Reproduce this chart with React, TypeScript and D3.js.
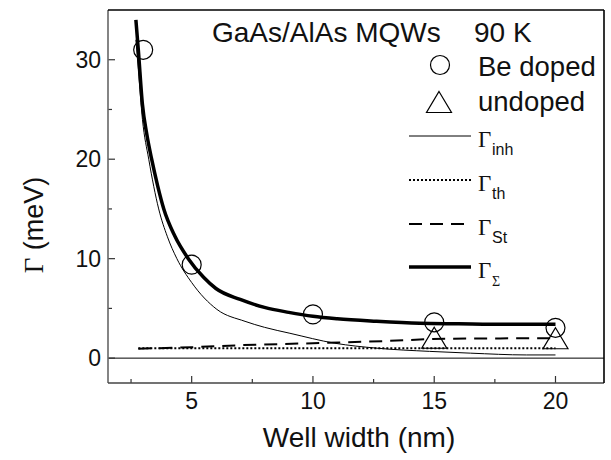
import React from "react";
import * as d3 from "d3";

// ---- data ----
const wellWidths = [3, 5, 10, 15, 20];
const beDoped = [31, 9.4, 4.4, 3.6, 3.05];
const undopedWidths = [15, 20];
const undoped = [2.05, 2.0];

const sumX = [2.7, 2.8, 2.97, 3.15, 3.35, 3.6, 3.85, 4.3, 4.86, 5.5, 6, 7, 8, 9, 10, 11, 12.6, 14.4, 16, 18, 20];
const sumY = [34, 31, 25.5, 22.5, 20, 17.3, 15, 12.3, 10, 8.1, 7.0, 5.9, 5.1, 4.6, 4.2, 3.95, 3.7, 3.5, 3.45, 3.4, 3.4];

const inhX = [2.7, 2.8, 2.97, 3.23, 3.64, 4.0, 4.39, 5.0, 6.04, 7.2, 8, 9.05, 10.9, 12.64, 14.8, 16.5, 18.8, 20];
const inhY = [32, 29, 24, 20, 15, 12.2, 10, 7.6, 4.9, 3.7, 3.1, 2.5, 1.5, 1.0, 0.68, 0.5, 0.32, 0.32];

const thX = [2.8, 20];
const thY = [1.0, 1.0];

const stX = [2.8, 5, 7, 10, 13, 15.5, 20];
const stY = [0.95, 1.1, 1.3, 1.5, 1.72, 1.95, 2.0];

const xMajor = [5, 10, 15, 20];
const xMinor = [2.5, 7.5, 12.5, 17.5];
const yMajor = [0, 10, 20, 30];
const yMinor = [5, 15, 25];

const SANS = "'Liberation Sans', Arial, sans-serif";
const SERIF = "'Liberation Serif', 'Times New Roman', serif";

export default function App() {
  const W = 611, H = 460;
  const L = 108, R = 604, T = 10, B = 383;
  const x = d3.scaleLinear().domain([1.55, 22]).range([L, R]);
  const y = d3.scaleLinear().domain([-2.5, 35]).range([B, T]);

  const mk = (xs: number[], ys: number[]) =>
    d3.line<number>().x((_, i) => x(xs[i])).y((_, i) => y(ys[i])).curve(d3.curveMonotoneX)(xs.map((v) => v)) || "";

  const tri = (cx: number, cy: number, w = 25, h = 21) =>
    `M${cx},${cy - h / 2}L${cx + w / 2},${cy + h / 2}L${cx - w / 2},${cy + h / 2}Z`;

  const legendLines = [
    { y: 136, dash: undefined as string | undefined, w: 1, sub: "inh", subSerif: false },
    { y: 180, dash: "2 2", w: 2, sub: "th", subSerif: false },
    { y: 224, dash: "13 8", w: 2, sub: "St", subSerif: false },
    { y: 267, dash: undefined, w: 3.5, sub: "Σ", subSerif: true },
  ];

  return (
    <svg width={W} height={H} style={{ display: "block", position: "absolute", left: 0, top: 0, background: "#fff" }}>
      <rect x={0} y={0} width={W} height={H} fill="#fff" />
      <defs>
        <clipPath id="plot">
          <rect x={L} y={T} width={R - L} height={B - T} />
        </clipPath>
      </defs>

      {/* zero line */}
      <line x1={L} x2={R} y1={y(0)} y2={y(0)} stroke="#000" strokeWidth={1} />

      {/* ticks */}
      {xMajor.map((v) => (
        <line key={"xm" + v} x1={x(v)} x2={x(v)} y1={B} y2={B - 7} stroke="#333" strokeWidth={1.2} />
      ))}
      {xMinor.map((v) => (
        <line key={"xn" + v} x1={x(v)} x2={x(v)} y1={B} y2={B - 4} stroke="#333" strokeWidth={1.2} />
      ))}
      {yMajor.map((v) => (
        <line key={"ym" + v} x1={L} x2={L + 7} y1={y(v)} y2={y(v)} stroke="#333" strokeWidth={1.2} />
      ))}
      {yMinor.map((v) => (
        <line key={"yn" + v} x1={L} x2={L + 4} y1={y(v)} y2={y(v)} stroke="#333" strokeWidth={1.2} />
      ))}

      {/* tick labels */}
      {xMajor.map((v) => (
        <text key={"xl" + v} x={x(v)} y={409} textAnchor="middle" fontFamily={SANS} fontSize={23} fill="#111">
          {v}
        </text>
      ))}
      {yMajor.map((v) => (
        <text key={"yl" + v} x={101} y={y(v) + 8} textAnchor="end" fontFamily={SANS} fontSize={23} fill="#111">
          {v}
        </text>
      ))}

      {/* curves */}
      <g clipPath="url(#plot)" fill="none">
        <path d={mk(inhX, inhY)} stroke="#000" strokeWidth={1} />
        <path d={mk(thX, thY)} stroke="#000" strokeWidth={2} strokeDasharray="2 2" />
        <path d={mk(stX, stY)} stroke="#000" strokeWidth={2} strokeDasharray="13 8" />
        <path d={mk(sumX, sumY)} stroke="#000" strokeWidth={3.5} />
      </g>

      {/* markers */}
      {wellWidths.map((w, i) => (
        <circle key={"c" + i} cx={x(w)} cy={y(beDoped[i])} r={9.5} fill="none" stroke="#000" strokeWidth={1.2} />
      ))}
      {undopedWidths.map((w, i) => (
        <path key={"t" + i} d={tri(x(w), y(undoped[i]))} fill="none" stroke="#000" strokeWidth={1.2} />
      ))}

      {/* frame */}
      <line x1={L} x2={L} y1={T} y2={B} stroke="#666" strokeWidth={1.6} />
      <line x1={L} x2={R} y1={B} y2={B} stroke="#444" strokeWidth={1.6} />
      <line x1={L} x2={R} y1={T} y2={T} stroke="#000" strokeWidth={1.6} />
      <line x1={R} x2={R} y1={T} y2={B} stroke="#000" strokeWidth={1.6} />

      {/* title */}
      <text x={212} y={42} fontFamily={SANS} fontSize={28} fill="#111">GaAs/AlAs MQWs</text>
      <text x={474} y={42} fontFamily={SANS} fontSize={28} fill="#111">90 K</text>

      {/* legend markers */}
      <circle cx={440} cy={65} r={9.5} fill="none" stroke="#000" strokeWidth={1.2} />
      <text x={478} y={76} fontFamily={SANS} fontSize={27.5} fill="#111">Be doped</text>
      <path d={tri(439, 102)} fill="none" stroke="#000" strokeWidth={1.2} />
      <text x={478} y={111} fontFamily={SANS} fontSize={27.5} fill="#111">undoped</text>

      {legendLines.map((l, i) => (
        <g key={"lg" + i}>
          <line x1={409} x2={471} y1={l.y} y2={l.y} stroke="#000" strokeWidth={l.w} strokeDasharray={l.dash} />
          <text x={478} y={l.y + 11} fontFamily={SERIF} fontSize={23} fill="#111">
            Γ
          </text>
          <text x={492} y={l.y + 19} fontFamily={l.subSerif ? SERIF : SANS} fontSize={l.subSerif ? 14 : 16} fill="#111">
            {l.sub}
          </text>
        </g>
      ))}

      {/* axis titles */}
      <text x={359} y={447} textAnchor="middle" fontFamily={SANS} fontSize={28} fill="#111">
        Well width (nm)
      </text>
      <text
        transform={`translate(43,225) rotate(-90)`}
        textAnchor="middle"
        fontFamily={SANS}
        fontSize={27}
        fill="#111"
      >
        <tspan fontFamily={SERIF}>Γ</tspan> (meV)
      </text>
    </svg>
  );
}
